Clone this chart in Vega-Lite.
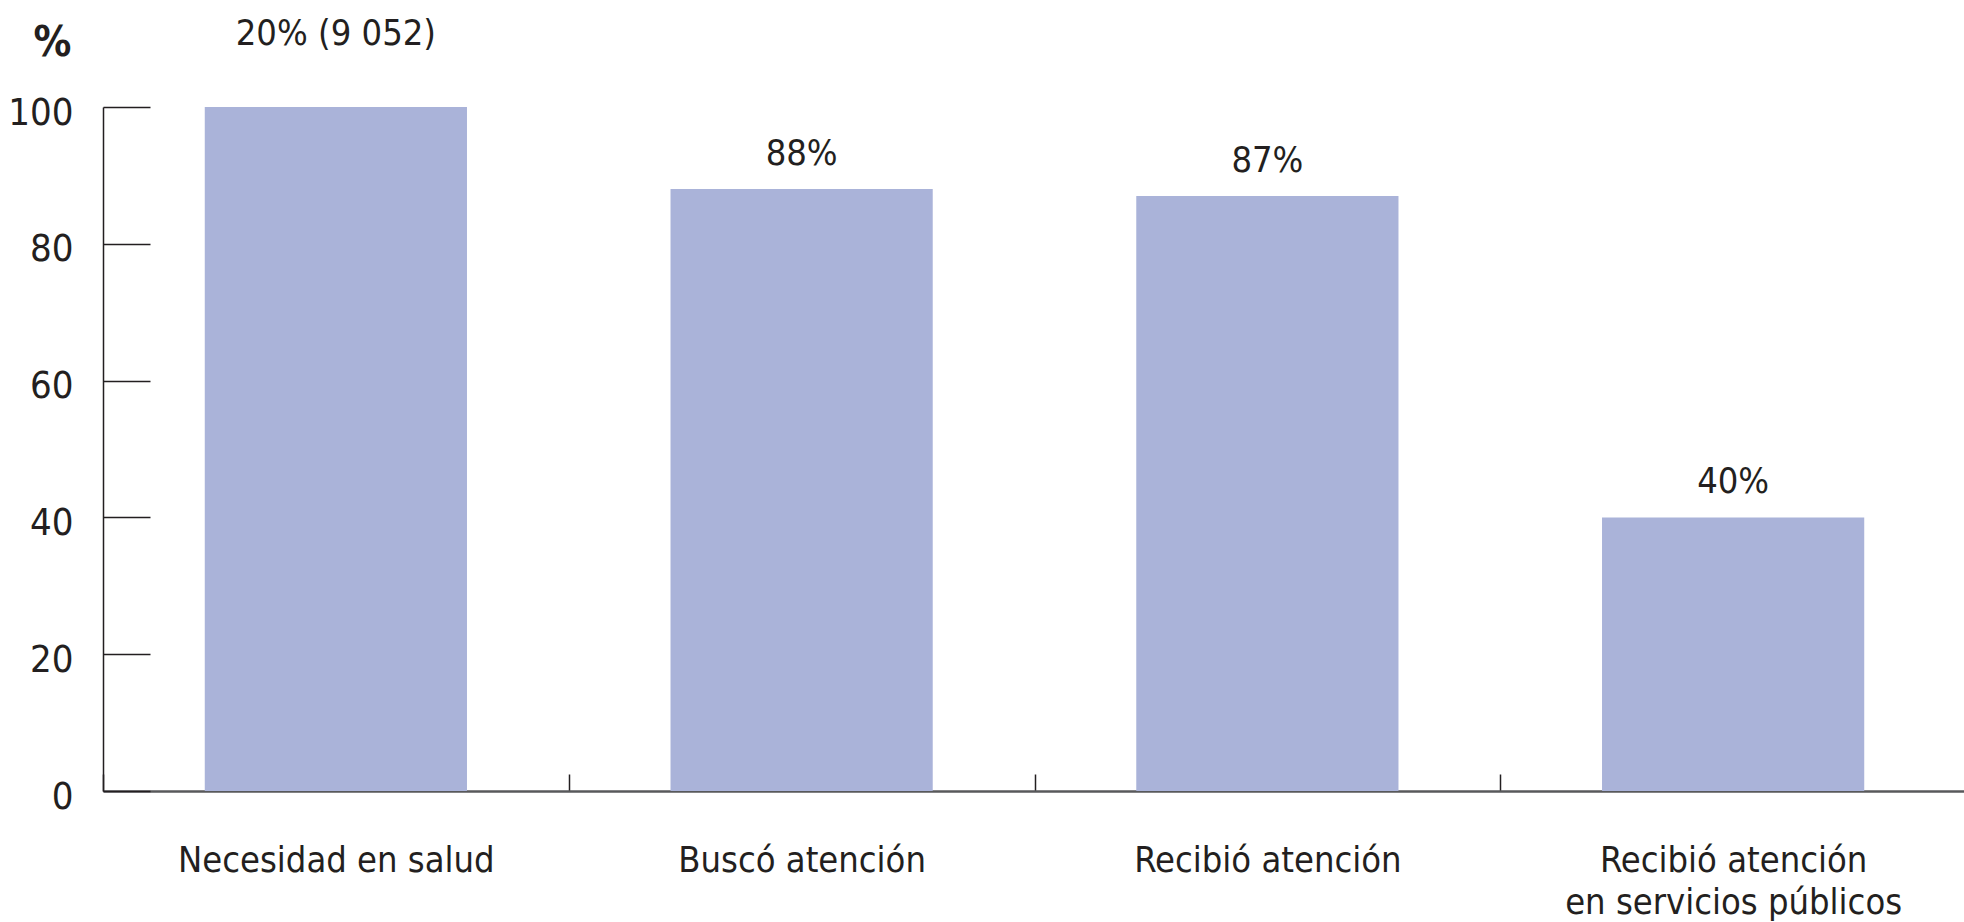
{
  "$schema": "https://vega.github.io/schema/vega-lite/v6.json",
  "autosize": {"type": "none"},
  "padding": {"left": 103, "top": 107, "right": 0, "bottom": 131},
  "width": 1863,
  "height": 684,
  "background": "white",
  "config": {
    "view": {"stroke": null},
    "font": "DejaVu Sans Condensed, serif",
    "axis": {"grid": false}
  },
  "data": {
    "values": [
      {"etapa": "Necesidad en salud", "porcentaje": 100, "etiqueta": "20% (9 052)"},
      {"etapa": "Buscó atención", "porcentaje": 88, "etiqueta": "88%"},
      {"etapa": "Recibió atención", "porcentaje": 87, "etiqueta": "87%"},
      {"etapa": "Recibió atención en servicios públicos", "porcentaje": 40, "etiqueta": "40%"}
    ]
  },
  "encoding": {
    "x": {
      "field": "etapa",
      "type": "nominal",
      "sort": null,
      "scale": {"paddingInner": 0, "paddingOuter": 0},
      "axis": {
        "title": null,
        "labelAngle": 0,
        "tickBand": "extent",
        "tickSize": -17,
        "tickColor": "#231f20",
        "tickWidth": 1.5,
        "domainColor": "#58595b",
        "domainWidth": 2.5,
        "labelFont": "DejaVu Sans Condensed, serif",
        "labelFontSize": 36,
        "labelColor": "#231f20",
        "labelBaseline": "alphabetic",
        "labelPadding": 97,
        "labelLineHeight": 42,
        "labelLimit": 0,
        "labelExpr": "datum.label == 'Recibió atención en servicios públicos' ? ['Recibió atención', 'en servicios públicos'] : datum.label"
      }
    },
    "y": {
      "field": "porcentaje",
      "type": "quantitative",
      "scale": {"domain": [0, 100], "nice": false},
      "axis": {
        "values": [0, 20, 40, 60, 80, 100],
        "tickSize": -47,
        "tickColor": "#231f20",
        "tickWidth": 1.5,
        "domainColor": "#231f20",
        "domainWidth": 1.5,
        "labelFont": "DejaVu Sans Condensed, serif",
        "labelFontSize": 38,
        "labelColor": "#231f20",
        "labelPadding": 77,
        "labelOffset": 6,
        "title": "%",
        "titleAngle": 0,
        "titleAlign": "center",
        "titleBaseline": "alphabetic",
        "titleX": -51,
        "titleY": -52,
        "titleFont": "DejaVu Sans Condensed, serif",
        "titleFontSize": 42,
        "titleFontWeight": "bold",
        "titleColor": "#231f20"
      }
    }
  },
  "layer": [
    {"mark": {"type": "bar", "color": "#aab3d9", "width": {"band": 0.563}}},
    {
      "transform": [{"filter": "datum.porcentaje < 100"}],
      "mark": {"type": "text", "baseline": "alphabetic", "dy": -24, "fontSize": 36, "color": "#231f20", "font": "DejaVu Sans Condensed, serif"},
      "encoding": {"text": {"field": "etiqueta"}}
    },
    {
      "transform": [{"filter": "datum.porcentaje >= 100"}],
      "mark": {"type": "text", "baseline": "alphabetic", "dy": -62, "fontSize": 36, "color": "#231f20", "font": "DejaVu Sans Condensed, serif"},
      "encoding": {"text": {"field": "etiqueta"}}
    }
  ]
}
